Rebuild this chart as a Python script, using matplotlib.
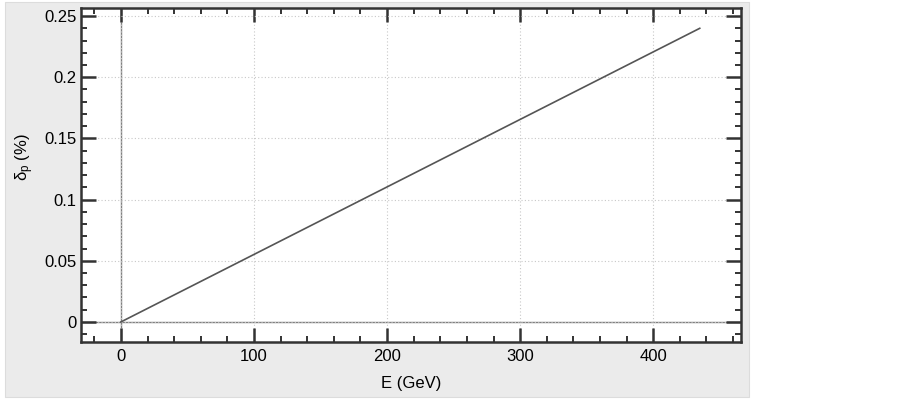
import matplotlib
matplotlib.use("Agg")
import matplotlib.pyplot as plt
from matplotlib.patches import Rectangle
from matplotlib.ticker import MultipleLocator

plt.rcParams['font.family'] = ['Liberation Sans', 'DejaVu Sans']

energy = [0, 435]
delta_p = [0.0, 0.24]
x_ticks = [0, 100, 200, 300, 400]
y_ticks = [0, 0.05, 0.1, 0.15, 0.2, 0.25]
y_tick_labels = ['0', '0.05', '0.1', '0.15', '0.2', '0.25']

W, H = 903, 399
fig = plt.figure(figsize=(W / 100, H / 100), dpi=100)
fig.patch.set_facecolor('white')
bg = Rectangle((5 / W, 2 / H), (749 - 5) / W, (397 - 2) / H,
               transform=fig.transFigure, facecolor='#ebebeb',
               edgecolor='#dcdcdc', linewidth=0.8, zorder=-10)
fig.add_artist(bg)

ax = fig.add_axes([81 / W, 1 - 342 / H, (741 - 81) / W, (342 - 8) / H])
ax.set_zorder(1)
ax.set_facecolor('white')
ax.set_xlim(-30, 466)
ax.set_ylim(-0.0164, 0.2566)

ax.set_xticks(x_ticks)
ax.set_yticks(y_ticks)
ax.set_yticklabels(y_tick_labels)
ax.xaxis.set_minor_locator(MultipleLocator(20))
ax.yaxis.set_minor_locator(MultipleLocator(0.01))

ax.grid(True, which='major', linestyle=(0, (1, 2)), color='#c8c8c8', linewidth=0.8)
ax.axhline(0, color='#808080', linewidth=1.0, zorder=1)
ax.axvline(0, color='#808080', linewidth=1.0, zorder=1)

ax.plot(energy, delta_p, color='#555555', linewidth=1.2, zorder=3)

ax.tick_params(which='major', direction='in', width=1.8, color='#333333',
               top=True, right=True, labelsize=12, labelcolor='black')
ax.tick_params(axis='x', which='major', length=10, pad=5)
ax.tick_params(axis='y', which='major', length=11, pad=3)
ax.tick_params(which='minor', direction='in', length=4, width=1.4, color='#333333',
               top=True, right=True)
for s in ax.spines.values():
    s.set_linewidth(1.8)
    s.set_color('#333333')

ax.set_xlabel('E (GeV)', fontsize=12, labelpad=9)
ax.set_ylabel(r'$\mathregular{\delta_p}$ (%)', fontsize=12)
ax.yaxis.set_label_coords((36 - 81) / (741 - 81), (342 - 157) / (342 - 8))

fig.savefig('out.png', dpi=100)
